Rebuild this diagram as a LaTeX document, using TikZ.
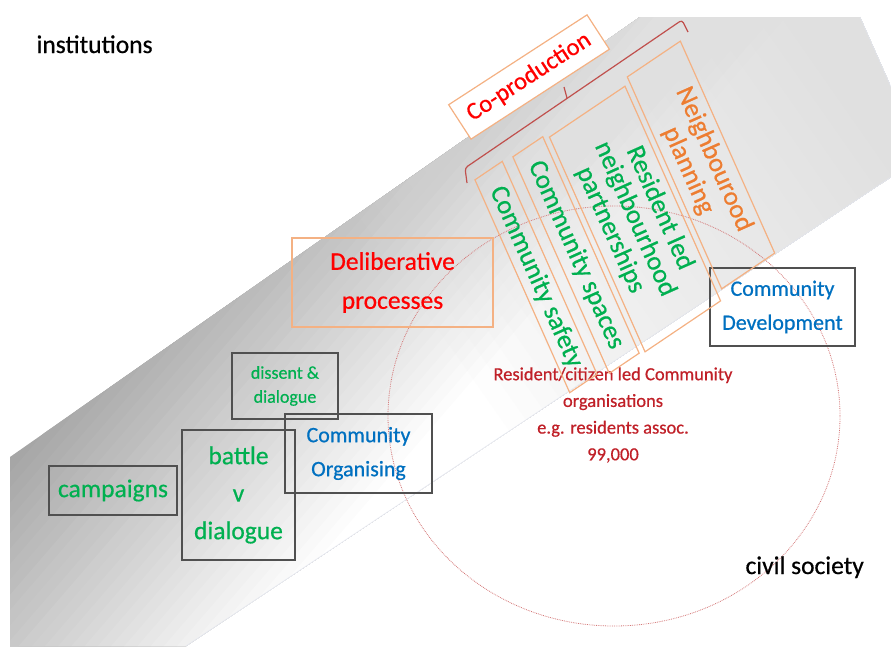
\documentclass[tikz,border=0pt]{standalone}
\usepackage{fontspec}
\setmainfont{Carlito}[FakeBold=0.6]
\usetikzlibrary{calc}

\definecolor{ogreen}{HTML}{00B050}
\definecolor{oblue}{HTML}{0070C0}
\definecolor{ored}{HTML}{FF0000}
\definecolor{dred}{HTML}{C02028}
\definecolor{oorange}{HTML}{ED7D31}
\definecolor{lorange}{HTML}{F4B183}
\definecolor{bracketred}{HTML}{C0504D}
\definecolor{circlered}{HTML}{D47878}
\definecolor{boxgray}{HTML}{505050}
\definecolor{bandedge}{HTML}{E2E5EE}

\newcommand{\setfs}[2]{\fontsize{#1}{#2}\selectfont}

\tikzset{
  greybox/.style={draw=boxgray, line width=1.2pt, align=center, inner sep=0pt},
  orangebox/.style={draw=lorange, line width=1.2pt, align=center, inner sep=0pt},
  slantframe/.style={draw=lorange, line width=1.2pt, inner sep=0pt, transform shape, rotate=-66, xslant=-0.176},
  slanttext/.style={rotate=-66, align=center, inner sep=0pt, text=ogreen, font=\setfs{26.5}{27}}
}

\begin{document}
\begin{tikzpicture}[x=1pt, y=-1pt]
\useasboundingbox (0,0) rectangle (891,646);

% grey band, darker to the upper left, paler towards its right end
\begin{scope}
  \clip (10,457) -- (640,17) -- (860,17) -- (891,87) -- (891,177) -- (186,646) -- (10,646) -- cycle;
  \fill[black!35] (0,0) rectangle (891,646);
  \begin{scope}[shift={(10,457)}, rotate=-40.8]
    \foreach \i [evaluate=\i as \lev using 35-35*\i/30] in {1,...,30}
      \fill[black!\lev] (\i*10,-1200) rectangle (1600,1200);
  \end{scope}
  \begin{scope}[shift={(10,457)}, rotate=35]
    \foreach \j in {1,...,25}
      \fill[black!12, opacity=0.055] (404+\j*20,-1200) rectangle (2000,1200);
  \end{scope}
\end{scope}
\draw[bandedge, line width=0.5pt] (860,17) -- (891,87);
\draw[bandedge, line width=0.5pt] (891,177) -- (186,646);

% civil society circle
\draw[circlered, densely dotted, line width=0.8pt] (614,416) ellipse [x radius=226pt, y radius=210pt];

\node[anchor=base west, font=\setfs{25.5}{30}] (inst) at (33,53) {institutions};
\node[anchor=base west, font=\setfs{25.5}{30}] (civil) at (742,574) {civil society};

\node[text=dred, align=center, font=\setfs{18.5}{26.7}] (resid) at (613,415)
  {Resident/citizen led Community\\organisations\\e.g. residents assoc.\\99,000};

% boxes on the left
\node[greybox, minimum width=128pt, minimum height=49pt, text=ogreen, font=\setfs{25.5}{30}] (camp) at (113,490.5) {campaigns};
\node[greybox, minimum width=113pt, minimum height=130pt, text=ogreen, font=\setfs{25.5}{37.5}] (battle) at (238.5,495) {battle\\v\\dialogue};
\node[greybox, minimum width=106pt, minimum height=66pt, text=ogreen, font=\setfs{18}{24}] (dissent) at (285,386) {dissent \&\\dialogue};
\node[greybox, minimum width=147pt, minimum height=79pt, text=oblue, font=\setfs{22}{34}] (corg) at (358.5,453.5) {Community\\Organising};
\node[greybox, minimum width=145pt, minimum height=78pt, text=oblue, font=\setfs{22}{34}] (cdev) at (782.5,307) {Community\\Development};
\node[orangebox, minimum width=201pt, minimum height=89pt, text=ored, font=\setfs{25.5}{39}] (delib) at (392.5,282.5) {Deliberative\\processes};

% slanted boxes
\node[slantframe, minimum width=233pt, minimum height=32.5pt] (safetybox) at (536,277) {};
\node[slanttext] (safety) at (safetybox) {Community safety};
\node[slantframe, minimum width=237pt, minimum height=35.5pt] (spacesbox) at (576,255) {};
\node[slanttext] (spaces) at (spacesbox) {Community spaces};
\node[slantframe, minimum width=235pt, minimum height=89.7pt] (partnerbox) at (635,219) {};
\node[slanttext] (partner) at (partnerbox) {Resident led\\neighbourhood\\partnerships};
\node[slantframe, minimum width=232pt, minimum height=63pt] (nplanbox) at (701,165) {};
\node[slanttext, text=oorange, font=\setfs{26.5}{28}] (nplan) at (nplanbox) {Neighbourood\\planning};

% co-production and its bracket
\node[orangebox, fill=white, rotate=33, minimum width=165pt, minimum height=41pt, text=ored, font=\setfs{24.5}{30}] (coprod) at (529,77) {Co-production};
\coordinate (brA) at (467,183);
\coordinate (brB) at (465,168);
\coordinate (brC) at (682,20);
\coordinate (brD) at (688,32);
\coordinate (brM) at (567,98);
\coordinate (brT) at (564,87);
\draw[bracketred, line width=1.2pt, rounded corners=3pt] (brA) -- (brB) -- (brC) -- (brD);
\draw[bracketred, line width=1.2pt] (brM) -- (brT);
\end{tikzpicture}
\end{document}
